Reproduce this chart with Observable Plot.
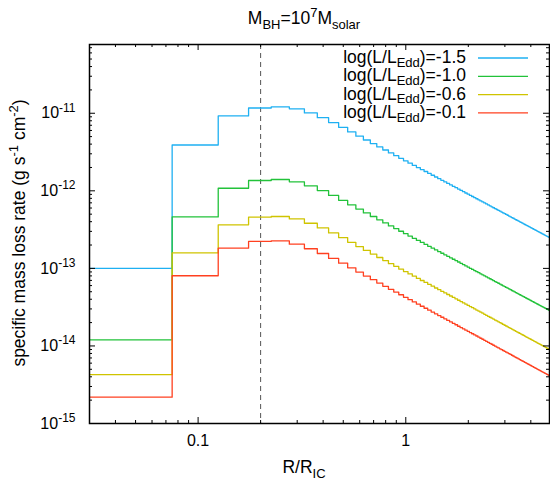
<!DOCTYPE html>
<html><head><meta charset="utf-8">
<script src="https://cdn.jsdelivr.net/npm/d3@7"></script>
<script src="https://cdn.jsdelivr.net/npm/@observablehq/plot@0.6"></script>
<style>body{margin:0;background:#fff}svg{font-family:"Liberation Sans",Arial,sans-serif}</style>
</head><body><div id="chart"></div>
<script>
// bin centres R/R_IC (bins are 0.05 wide)
const binCenters = [0.05,0.10,0.15,0.20,0.25,0.30,0.35,0.40,0.45,
0.50,0.55,0.60,0.65,0.70,0.75,0.80,0.85,0.90,0.95,
1.00,1.05,1.10,1.15,1.20,1.25,1.30,1.35,1.40,1.45,
1.50,1.55,1.60,1.65,1.70,1.75,1.80,1.85,1.90,1.95,
2.00,2.05,2.10,2.15,2.20,2.25,2.30,2.35,2.40,2.45,
2.50,2.55,2.60,2.65,2.70,2.75,2.80,2.85,2.90,2.95,
3.00,3.05,3.10,3.15,3.20,3.25,3.30,3.35,3.40,3.45,
3.50,3.55,3.60,3.65,3.70,3.75,3.80,3.85,3.90,3.95,
4.00,4.05,4.10,4.15,4.20,4.25,4.30,4.35,4.40,4.45,
4.50,4.55,4.60,4.65,4.70,4.75,4.80,4.85,4.90,4.95];
const binWidth = 0.05;

// log10 of specific mass loss rate (g s^-1 cm^-2)
const logRateM15 = [-13.000,-11.409,-11.034,-10.932,-10.917,-10.943,-10.996,-11.057,-11.120,
-11.182,-11.241,-11.295,-11.345,-11.391,-11.434,-11.474,-11.512,-11.547,-11.581,
-11.613,-11.643,-11.672,-11.700,-11.726,-11.751,-11.776,-11.799,-11.822,-11.844,
-11.865,-11.885,-11.905,-11.924,-11.942,-11.960,-11.978,-11.995,-12.011,-12.028,
-12.043,-12.059,-12.073,-12.088,-12.102,-12.116,-12.130,-12.143,-12.156,-12.169,
-12.182,-12.194,-12.206,-12.218,-12.230,-12.241,-12.252,-12.263,-12.274,-12.285,
-12.295,-12.305,-12.315,-12.325,-12.335,-12.345,-12.354,-12.364,-12.373,-12.382,
-12.391,-12.400,-12.408,-12.417,-12.425,-12.434,-12.442,-12.450,-12.458,-12.466,
-12.474,-12.482,-12.489,-12.497,-12.504,-12.511,-12.519,-12.526,-12.533,-12.540,
-12.547,-12.554,-12.560,-12.567,-12.574,-12.580,-12.587,-12.593,-12.600,-12.606];
const logRateM10 = [-13.921,-12.337,-11.967,-11.867,-11.854,-11.884,-11.936,-11.997,-12.060,
-12.122,-12.181,-12.235,-12.285,-12.331,-12.374,-12.414,-12.452,-12.487,-12.521,
-12.553,-12.583,-12.612,-12.640,-12.666,-12.691,-12.716,-12.739,-12.762,-12.784,
-12.805,-12.825,-12.845,-12.864,-12.882,-12.900,-12.918,-12.935,-12.951,-12.968,
-12.983,-12.999,-13.013,-13.028,-13.042,-13.056,-13.070,-13.083,-13.096,-13.109,
-13.122,-13.134,-13.146,-13.158,-13.170,-13.181,-13.192,-13.203,-13.214,-13.225,
-13.235,-13.245,-13.255,-13.265,-13.275,-13.285,-13.294,-13.304,-13.313,-13.322,
-13.331,-13.340,-13.348,-13.357,-13.365,-13.374,-13.382,-13.390,-13.398,-13.406,
-13.414,-13.422,-13.429,-13.437,-13.444,-13.451,-13.459,-13.466,-13.473,-13.480,
-13.487,-13.494,-13.500,-13.507,-13.514,-13.520,-13.527,-13.533,-13.540,-13.546];
const logRateM06 = [-14.371,-12.801,-12.438,-12.340,-12.331,-12.362,-12.418,-12.479,-12.543,
-12.604,-12.664,-12.719,-12.769,-12.816,-12.860,-12.900,-12.939,-12.974,-13.009,
-13.041,-13.071,-13.101,-13.129,-13.156,-13.181,-13.206,-13.230,-13.253,-13.275,
-13.297,-13.317,-13.337,-13.356,-13.375,-13.393,-13.411,-13.428,-13.445,-13.462,
-13.477,-13.493,-13.507,-13.523,-13.537,-13.551,-13.565,-13.578,-13.592,-13.605,
-13.618,-13.630,-13.642,-13.654,-13.667,-13.678,-13.689,-13.700,-13.711,-13.722,
-13.733,-13.743,-13.753,-13.763,-13.773,-13.783,-13.792,-13.803,-13.812,-13.821,
-13.830,-13.839,-13.847,-13.856,-13.864,-13.874,-13.882,-13.890,-13.898,-13.906,
-13.914,-13.922,-13.929,-13.937,-13.944,-13.952,-13.960,-13.967,-13.974,-13.981,
-13.988,-13.995,-14.001,-14.008,-14.015,-14.022,-14.029,-14.035,-14.042,-14.048];
const logRateM01 = [-14.660,-13.095,-12.740,-12.652,-12.645,-12.688,-12.747,-12.808,-12.872,
-12.933,-12.993,-13.048,-13.099,-13.146,-13.190,-13.231,-13.270,-13.306,-13.340,
-13.373,-13.404,-13.433,-13.462,-13.488,-13.514,-13.539,-13.563,-13.586,-13.609,
-13.630,-13.651,-13.671,-13.691,-13.709,-13.727,-13.746,-13.763,-13.779,-13.797,
-13.812,-13.828,-13.843,-13.858,-13.872,-13.887,-13.901,-13.914,-13.927,-13.941,
-13.954,-13.966,-13.978,-13.991,-14.003,-14.014,-14.025,-14.037,-14.048,-14.059,
-14.069,-14.080,-14.090,-14.100,-14.110,-14.120,-14.130,-14.140,-14.149,-14.158,
-14.167,-14.177,-14.185,-14.194,-14.202,-14.211,-14.219,-14.228,-14.236,-14.244,
-14.252,-14.260,-14.267,-14.276,-14.283,-14.290,-14.298,-14.305,-14.312,-14.319,
-14.327,-14.334,-14.340,-14.347,-14.354,-14.360,-14.367,-14.374,-14.381,-14.387];

const seriesLabels = ["-1.5", "-1.0", "-0.6", "-0.1"];
const seriesColors = ["#1eb0f2", "#22c23a", "#cfc400", "#ff4020"];
const seriesValues = [logRateM15, logRateM10, logRateM06, logRateM01];

const xMajor = [0.1, 1];
const xMinor = [0.04,0.05,0.06,0.07,0.08,0.09,0.2,0.3,0.4,0.5,0.6,0.7,0.8,0.9,2,3,4];
const yMajor = [1e-15, 1e-14, 1e-13, 1e-12, 1e-11];
const yMinor = [2e-15,3e-15,4e-15,5e-15,6e-15,7e-15,8e-15,9e-15,
2e-14,3e-14,4e-14,5e-14,6e-14,7e-14,8e-14,9e-14,
2e-13,3e-13,4e-13,5e-13,6e-13,7e-13,8e-13,9e-13,
2e-12,3e-12,4e-12,5e-12,6e-12,7e-12,8e-12,9e-12,
2e-11,3e-11,4e-11,5e-11,6e-11,7e-11];
const dashedAt = [0.2];

// build step tables: left edge of each bin, plus the right edge of the last
function stepTable(vals) {
  const rows = binCenters.map((c, i) => ({x: c - binWidth / 2, y: Math.pow(10, vals[i])}));
  rows.push({x: binCenters[binCenters.length - 1] + binWidth / 2, y: Math.pow(10, vals[vals.length - 1])});
  return rows;
}

const W = 550, H = 483, mL = 89, mR = 1, mT = 44, mB = 60;
const fw = W - mL - mR, fh = H - mT - mB;
const major = 6, minor = 3;

const marks = [
  Plot.ruleX(dashedAt, {x: d => d, stroke: "#555", strokeWidth: 1, strokeDasharray: "5,4"}),
  ...seriesValues.map((v, i) => Plot.line(stepTable(v), {x: "x", y: "y", curve: "step-after", stroke: seriesColors[i], strokeWidth: 1.3, clip: true})),
  // inward ticks, bottom/top
  Plot.tickX(xMajor, {x: d => d, insetTop: fh - major, stroke: "#000"}),
  Plot.tickX(xMajor, {x: d => d, insetBottom: fh - major, stroke: "#000"}),
  Plot.tickX(xMinor, {x: d => d, insetTop: fh - minor, stroke: "#000"}),
  Plot.tickX(xMinor, {x: d => d, insetBottom: fh - minor, stroke: "#000"}),
  // inward ticks, left/right
  Plot.tickY(yMajor, {y: d => d, insetRight: fw - major, stroke: "#000"}),
  Plot.tickY(yMajor, {y: d => d, insetLeft: fw - major, stroke: "#000"}),
  Plot.tickY(yMinor, {y: d => d, insetRight: fw - minor, stroke: "#000"}),
  Plot.tickY(yMinor, {y: d => d, insetLeft: fw - minor, stroke: "#000"}),
  Plot.axisX(xMajor, {anchor: "bottom", tickSize: 0, tickPadding: 11, fontSize: 16, label: null, tickFormat: d => String(d)}),
  Plot.axisY(yMajor, {anchor: "left", tickSize: 0, tickPadding: 14, fontSize: 16, label: null, tickFormat: d => "10^" + Math.round(Math.log10(d))}),
  Plot.frame({stroke: "#000", strokeWidth: 1.5})
];

const chart = Plot.plot({
  width: W, height: H,
  marginLeft: mL, marginRight: mR, marginTop: mT, marginBottom: mB,
  style: {fontFamily: "Liberation Sans, Arial, sans-serif", fontSize: "16px", background: "#fff", color: "#000"},
  x: {type: "log", domain: [0.03, 4.92], label: null},
  y: {type: "log", domain: [1e-15, 7.7e-11], label: null},
  marks
});
document.getElementById("chart").appendChild(chart);

const svg = d3.select(chart);

function rich(sel, parts, size, subShift = 0.3) {
  let shift = 0;
  parts.forEach(([t, k]) => {
    const target = k === "sub" ? subShift * size : k === "sup" ? -0.42 * size : 0;
    const ts = sel.append("tspan").attr("dy", target - shift).text(t);
    if (k !== "n") ts.attr("font-size", Math.round(size * 0.76));
    shift = target;
  });
}

// y tick labels as 10 with superscript exponent
svg.selectAll('g[aria-label="y-axis tick label"] text').each(function () {
  const [b, e] = this.textContent.split("^");
  const s = d3.select(this);
  s.text(null);
  rich(s, [[b, "n"], [e, "sup"]], 16);
});

// title
rich(svg.append("text").attr("x", 304).attr("y", 24).attr("text-anchor", "middle").attr("font-size", 17.5),
  [["M", "n"], ["BH", "sub"], ["=10", "n"], ["7", "sup"], ["M", "n"], ["solar", "sub"]], 17.5);

// x label
rich(svg.append("text").attr("x", 304).attr("y", 473).attr("text-anchor", "middle").attr("font-size", 17.5),
  [["R/R", "n"], ["IC", "sub"]], 17.5);

// y label
rich(svg.append("text").attr("transform", "translate(25,233) rotate(-90)").attr("text-anchor", "middle").attr("font-size", 17.5),
  [["specific mass loss rate (g s", "n"], ["-1", "sup"], [" cm", "n"], ["-2", "sup"], [")", "n"]], 17.5);

// legend
const legendY = [63, 81.3, 99.6, 117.9];
seriesLabels.forEach((lab, i) => {
  rich(svg.append("text").attr("x", 466).attr("y", legendY[i]).attr("text-anchor", "end").attr("font-size", 17.5),
    [["log(L/L", "n"], ["Edd", "sub"], [")=" + lab, "n"]], 17.5, 0.22);
  svg.append("line").attr("x1", 478).attr("x2", 528).attr("y1", legendY[i] - 5).attr("y2", legendY[i] - 5)
    .attr("stroke", seriesColors[i]).attr("stroke-width", 1.3);
});
</script></body></html>
